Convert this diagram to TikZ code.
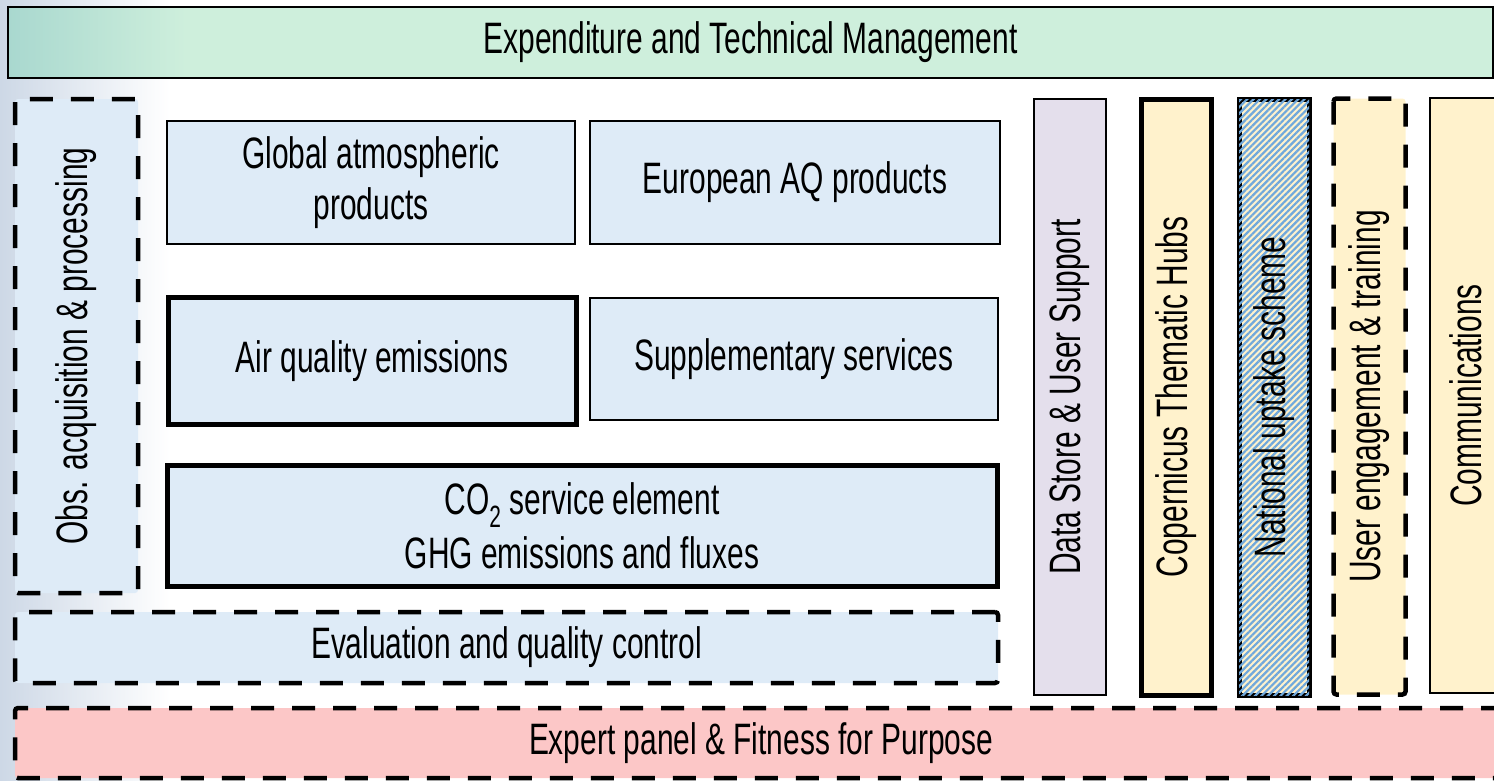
\documentclass[tikz,border=0pt]{standalone}
\usepackage{fontspec}
\setmainfont{Liberation Sans}[FakeStretch=0.68]
\usetikzlibrary{patterns.meta}

\definecolor{prodblue}{HTML}{DEEBF7}
\definecolor{mgmtgreen}{HTML}{CEEFDC}
\definecolor{mgmtteal}{HTML}{A9D8CF}
\definecolor{expertpink}{HTML}{FCC7C7}
\definecolor{storelilac}{HTML}{E4DFEC}
\definecolor{hubyellow}{HTML}{FFF2CC}
\definecolor{stripeblue}{HTML}{6FA8DC}
\definecolor{skyleft}{HTML}{CDD8E6}

\pgfdeclarehorizontalshading{mgmtshade}{100bp}{color(0bp)=(mgmtteal); color(25bp)=(mgmtteal);
  color(31bp)=(mgmtgreen); color(100bp)=(mgmtgreen)}

\begin{document}
\begin{tikzpicture}[x=1pt,y=-1pt,
  box/.style={draw, line width=1.2pt, fill=prodblue, align=center, inner sep=0pt,
    font=\fontsize{44}{51}\selectfont},
  thickbox/.style={box, line width=5pt},
  dashbox/.style={box, line width=4.5pt, dash pattern=on 23pt off 18pt, rounded corners=3pt},
  column/.style={rotate=90, minimum width=596pt, minimum height=72pt}]
  \useasboundingbox (0,0) rectangle (1494,780);
  % faint sky behind the left edge
  \shade[left color=skyleft, right color=white] (0,0) rectangle (170,780);

  % Top and bottom bands
  \node[box, shading=mgmtshade, minimum width=1485pt, minimum height=71pt] (mgmt) at (750.5,42.5)
    {Expenditure and Technical Management};
  \node[dashbox, fill=expertpink, minimum width=1492pt, minimum height=70pt] (expert) at (761,743)
    {Expert panel \& Fitness for Purpose};

  % Production boxes
  \node[dashbox, rotate=90, minimum width=494pt, minimum height=123pt] (obs) at (76.5,346)
    {Obs. acquisition \& processing};
  \node[box, minimum width=408pt, minimum height=123pt] (global) at (371,182.5)
    {Global atmospheric\\products};
  \node[box, minimum width=410pt, minimum height=123pt] (european) at (795,182.5)
    {European AQ products};
  \node[thickbox, minimum width=408pt, minimum height=127pt] (aqemis) at (372,361)
    {Air quality  emissions};
  \node[box, minimum width=408pt, minimum height=122pt] (suppl) at (794,359)
    {Supplementary services};
  \node[thickbox, minimum width=830pt, minimum height=121pt] (co2) at (582,525.5)
    {CO\textsubscript{2} service element\\[3pt]GHG emissions and fluxes};
  \node[dashbox, minimum width=983pt, minimum height=71pt] (eval) at (506.5,647.5)
    {Evaluation and quality control};

  % Columns on the right
  \node[box, column, fill=storelilac] (store) at (1070,397)
    {Data Store \& User Support};
  \node[thickbox, column, fill=hubyellow, minimum height=70pt] (hubs) at (1176.5,397)
    {Copernicus Thematic Hubs};
  \node[thickbox, column, fill=hubyellow, minimum height=70pt,
    postaction={pattern={Lines[angle=45,distance=4.5pt,line width=2.2pt]}, pattern color=stripeblue}]
    (uptake) at (1274,397) {National uptake scheme};
  \node[dashbox, column, fill=hubyellow, minimum height=72pt] (engage) at (1369.5,396.5)
    {User engagement \& training};
  \node[box, column, fill=hubyellow, minimum width=595pt, minimum height=72pt] (comms) at (1466,395.5)
    {Communications};
\end{tikzpicture}
\end{document}
